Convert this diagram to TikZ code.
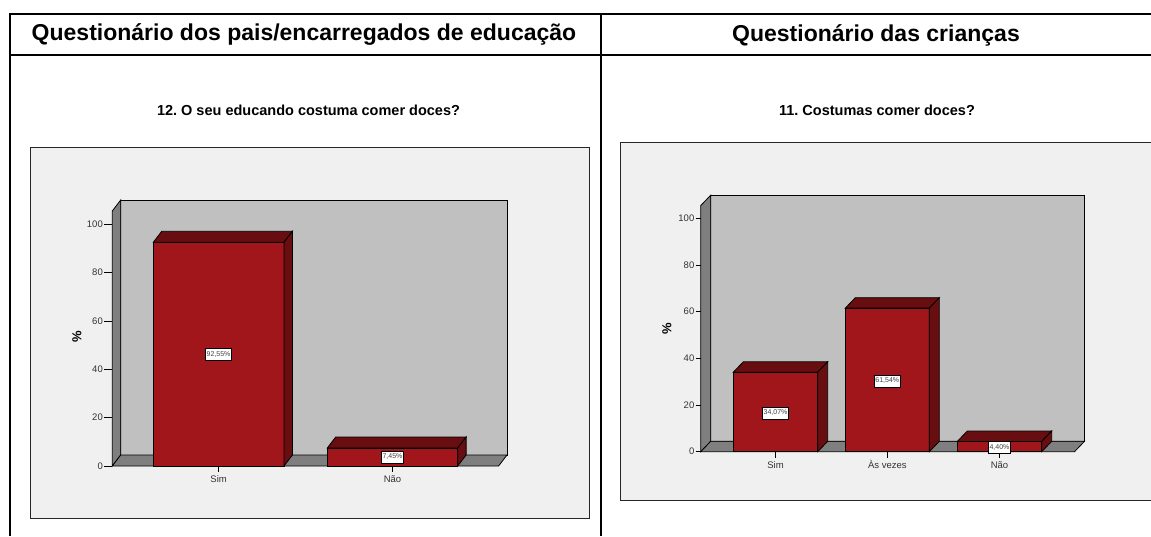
\documentclass[tikz,border=0pt]{standalone}
\usepackage{fontspec}
\setmainfont{Liberation Sans}
\frenchspacing
\definecolor{barfront}{HTML}{A0161A}
\definecolor{bardark}{HTML}{680E11}
\definecolor{wallback}{HTML}{C0C0C0}
\definecolor{wallside}{HTML}{7F7F7F}
\definecolor{chartbg}{HTML}{F0F0F0}
\begin{document}
\begin{tikzpicture}[x=1pt,y=-1pt,
    tablerule/.style={draw=black, line width=2pt},
    header/.style={font=\fontsize{23}{26}\selectfont\bfseries},
    charttitle/.style={font=\fontsize{14.5}{16}\selectfont\bfseries},
    ticklabel/.style={anchor=east, inner sep=1pt, font=\fontsize{9.5}{11}\selectfont, text=black!80},
    catlabel/.style={anchor=base, inner sep=0pt, font=\fontsize{9.5}{11}\selectfont, text=black!80},
    valbox/.style={draw=black, fill=white, inner sep=1.2pt, minimum height=12pt, font=\fontsize{7}{8}\selectfont, text=black!75},
    pctlabel/.style={rotate=90, font=\fontsize{13}{14}\selectfont\bfseries},
    edge/.style={draw=black, line width=0.8pt}]
    \useasboundingbox (0,0) rectangle (1151,536);

    % table
    \draw[tablerule] (10,14) -- (1151,14);
    \draw[tablerule] (10,55) -- (1151,55);
    \draw[tablerule] (10,13) -- (10,536);
    \draw[tablerule] (601,13) -- (601,536);
    \node[header] (hdrL) at (304,35) {Questionário dos pais/encarregados de educação};
    \node[header] (hdrR) at (876,35) {Questionário das crianças};

    % left chart
    \node[charttitle] (titleL) at (308.5,110) {12. O seu educando costuma comer doces?};
    \filldraw[fill=chartbg, draw=black!85, line width=0.8pt] (30,147) rectangle (589,518);
    \filldraw[fill=wallback, edge] (120.7,200) rectangle (507,455);
    \filldraw[fill=wallside, edge] (112.3,466) -- (112.3,211) -- (120.7,200) -- (120.7,455) -- cycle;
    \filldraw[fill=wallside, edge] (112.3,466) -- (498.6,466) -- (507,455) -- (120.7,455) -- cycle;
    \foreach \v in {0,20,...,100} {
        \draw[edge] (104,{466-2.417*\v}) -- (112.3,{466-2.417*\v});
        \node[ticklabel] at (104,{466-2.417*\v}) {\v};
    }
    % Sim
    \filldraw[fill=barfront, edge] (153.3,242.3) rectangle (284,466);
    \filldraw[fill=bardark, edge] (153.3,242.3) -- (161.7,231.3) -- (292.4,231.3) -- (284,242.3) -- cycle;
    \filldraw[fill=bardark, edge] (284,242.3) -- (292.4,231.3) -- (292.4,455) -- (284,466) -- cycle;
    % Nao
    \filldraw[fill=barfront, edge] (327.3,448) rectangle (457.7,466);
    \filldraw[fill=bardark, edge] (327.3,448) -- (335.7,437) -- (466.1,437) -- (457.7,448) -- cycle;
    \filldraw[fill=bardark, edge] (457.7,448) -- (466.1,437) -- (466.1,455) -- (457.7,466) -- cycle;
    \draw[edge] (218.6,466) -- (218.6,472);
    \draw[edge] (392.5,466) -- (392.5,472);
    \node[catlabel] (catL1) at (218.6,482) {Sim};
    \node[catlabel] (catL2) at (392.5,482) {Não};
    \node[valbox] (valL1) at (218.6,354) {92,55\%};
    \node[valbox] (valL2) at (392.5,457) {7,45\%};
    \node[pctlabel] (pctL) at (77,337) {\%};

    % right chart
    \node[charttitle] (titleR) at (877,110) {11. Costumas comer doces?};
    \fill[chartbg] (620,142) rectangle (1151,500);
    \draw[black!85, line width=0.8pt] (1151,142) -- (620,142) -- (620,500) -- (1151,500);
    \filldraw[fill=wallback, edge] (710.7,195.2) rectangle (1084.5,441.3);
    \filldraw[fill=wallside, edge] (700.7,451.7) -- (700.7,205.6) -- (710.7,195.2) -- (710.7,441.3) -- cycle;
    \filldraw[fill=wallside, edge] (700.7,451.7) -- (1074.5,451.7) -- (1084.5,441.3) -- (710.7,441.3) -- cycle;
    \foreach \v in {0,20,...,100} {
        \draw[edge] (695.5,{451.7-2.333*\v}) -- (700.7,{451.7-2.333*\v});
        \node[ticklabel] at (695.5,{451.7-2.333*\v}) {\v};
    }
    % Sim
    \filldraw[fill=barfront, edge] (733.3,372.2) rectangle (817.7,451.7);
    \filldraw[fill=bardark, edge] (733.3,372.2) -- (743.3,361.8) -- (827.7,361.8) -- (817.7,372.2) -- cycle;
    \filldraw[fill=bardark, edge] (817.7,372.2) -- (827.7,361.8) -- (827.7,441.3) -- (817.7,451.7) -- cycle;
    % As vezes
    \filldraw[fill=barfront, edge] (845.3,308.1) rectangle (929.3,451.7);
    \filldraw[fill=bardark, edge] (845.3,308.1) -- (855.3,297.7) -- (939.3,297.7) -- (929.3,308.1) -- cycle;
    \filldraw[fill=bardark, edge] (929.3,308.1) -- (939.3,297.7) -- (939.3,441.3) -- (929.3,451.7) -- cycle;
    % Nao
    \filldraw[fill=barfront, edge] (957.3,441.4) rectangle (1041.7,451.7);
    \filldraw[fill=bardark, edge] (957.3,441.4) -- (967.3,431) -- (1051.7,431) -- (1041.7,441.4) -- cycle;
    \filldraw[fill=bardark, edge] (1041.7,441.4) -- (1051.7,431) -- (1051.7,441.3) -- (1041.7,451.7) -- cycle;
    \draw[edge] (775.5,451.7) -- (775.5,457.5);
    \draw[edge] (887.3,451.7) -- (887.3,457.5);
    \draw[edge] (999.5,451.7) -- (999.5,457.5);
    \node[catlabel] (catR1) at (775.5,468.5) {Sim};
    \node[catlabel] (catR2) at (887.3,468.5) {Às vezes};
    \node[catlabel] (catR3) at (999.5,468.5) {Não};
    \node[valbox] (valR1) at (775.5,412.7) {34,07\%};
    \node[valbox] (valR2) at (887.3,380.7) {61,54\%};
    \node[valbox] (valR3) at (999.5,447) {4,40\%};
    \node[pctlabel] (pctR) at (667,328.5) {\%};
\end{tikzpicture}
\end{document}
